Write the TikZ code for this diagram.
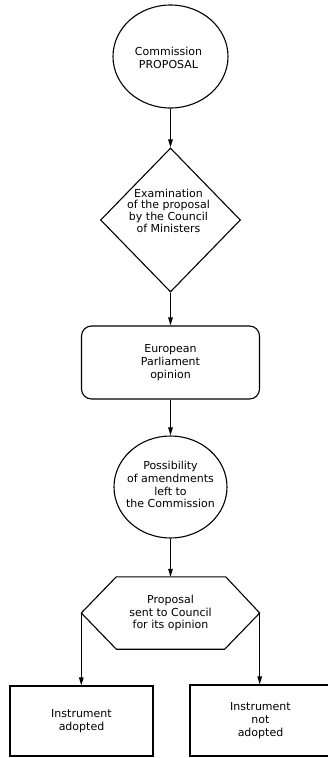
\documentclass[tikz,border=0pt]{standalone}
\usepackage{fontspec}
\setmainfont{DejaVu Sans}
\usetikzlibrary{arrows.meta,shapes.geometric,calc}
\begin{document}
\begin{tikzpicture}[x=1pt,y=-1pt,
  txt/.style={font=\fontsize{11}{12.8}\selectfont, align=center, inner sep=0pt},
  shapeline/.style={draw, line width=1.1pt},
  conn/.style={draw, line width=1.1pt, -{Triangle[length=8pt,width=4.5pt]}}]
\clip (0,0) rectangle (328,758);
% shapes
\node[ellipse, shapeline, minimum width=115pt, minimum height=103pt, inner sep=0pt] (prop) at (170.5,56.5) {};
\node[txt] (propt) at (168.5,58) {Commission\\PROPOSAL};
\node[diamond, shapeline, minimum width=140pt, minimum height=144pt, inner sep=0pt] (exam) at (170.5,220) {};
\node[txt, font=\fontsize{11}{11.6}\selectfont] (examt) at (168.5,210.5) {Examination\\of the proposal\\by the Council\\of Ministers};
\node[rectangle, rounded corners=10pt, shapeline, minimum width=178pt, minimum height=73pt, txt] (ep) at (170.5,362.5) {European\\Parliament\\opinion};
\node[ellipse, shapeline, minimum width=113pt, minimum height=102pt, inner sep=0pt] (amend) at (170.5,487) {};
\node[txt] (amendt) at (170.5,484.5) {Possibility\\of amendments\\left to\\the Commission};
\node[txt, minimum width=178pt, minimum height=72pt] (hex) at (170.5,613) {Proposal\\sent to Council\\for its opinion};
\draw[shapeline] (hex.west) -- ($(hex.north west)+(35,0)$) -- ($(hex.north east)+(-34,0)$)
  -- (hex.east) -- ($(hex.south east)+(-35,0)$) -- ($(hex.south west)+(35,0)$) -- cycle;
\node[rectangle, shapeline, minimum width=143pt, minimum height=70pt, txt] (adopt) at (81.5,721) {Instrument\\adopted};
\node[rectangle, shapeline, minimum width=141pt, minimum height=71pt, txt] (notad) at (260.5,720.5) {Instrument\\not\\adopted};
% connectors
\draw[conn] (prop.south) -- (exam.north);
\draw[conn] (exam.south) -- (ep.north);
\draw[conn] (ep.south) -- (amend.north);
\draw[conn] (amend.south) -- (hex.north);
\draw[conn] (hex.west) -- (hex.west |- adopt.north);
\draw[conn] (hex.east) -- (hex.east |- notad.north);
\end{tikzpicture}
\end{document}
